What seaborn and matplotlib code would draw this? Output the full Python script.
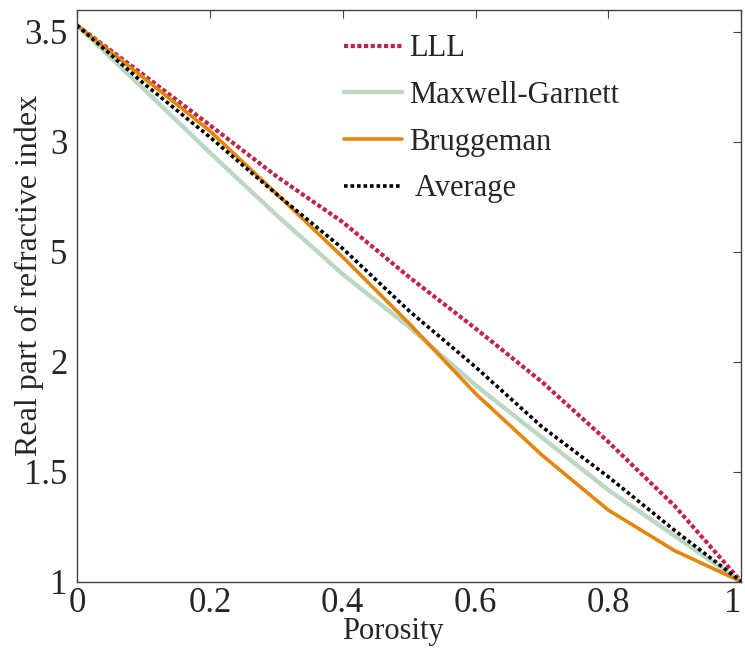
import numpy as np
import pandas as pd
import seaborn as sns
import matplotlib
matplotlib.use("Agg")
import matplotlib.pyplot as plt

porosity = [0.0, 0.1, 0.2, 0.3, 0.4, 0.5, 0.6, 0.7, 0.8, 0.9, 1.0]
lll = [3.53, 3.305, 3.076, 2.844, 2.635, 2.385, 2.151, 1.908, 1.635, 1.343, 1.0]
maxwell_garnett = [3.53, 3.242, 2.951, 2.668, 2.398, 2.158, 1.893, 1.655, 1.416, 1.207, 1.0]
bruggeman = [3.53, 3.292, 3.050, 2.765, 2.476, 2.174, 1.855, 1.575, 1.325, 1.140, 1.0]
average = [3.53, 3.267, 3.022, 2.763, 2.515, 2.231, 1.976, 1.704, 1.476, 1.232, 1.0]

series_names = ["LLL", "Maxwell-Garnett", "Bruggeman", "Average"]
legend_labels = ["LLL", "Maxwell-Garnett", "Bruggeman", " Average"]
x_ticks = [0, 0.2, 0.4, 0.6, 0.8, 1]
x_tick_labels = ["0", "0.2", "0.4", "0.6", "0.8", "1"]
y_ticks = [1, 1.5, 2, 2.5, 3, 3.5]
y_tick_labels = ["1", "1.5", "2", "5", "3", "3.5"]

df = pd.DataFrame({
    "Porosity": porosity * 4,
    "n": lll + maxwell_garnett + bruggeman + average,
    "Model": sum([[name] * len(porosity) for name in series_names], []),
})

sns.set_style("white")
plt.rcParams["font.family"] = ["Liberation Serif", "DejaVu Serif"]

fig = plt.figure(figsize=(7.45, 6.52), dpi=100)
ax = fig.add_axes([0.1034, 0.108, 0.8916, 0.8767])

styles = {
    "LLL": dict(color="#C0234B", lw=3.0, ls=(0, (1, 0.6))),
    "Maxwell-Garnett": dict(color="#BCD8C2", lw=3.2, ls="-"),
    "Bruggeman": dict(color="#E3860C", lw=2.6, ls="-"),
    "Average": dict(color="black", lw=2.6, ls=(0, (1, 0.8))),
}

for name, lab in zip(series_names, legend_labels):
    sub = df[df["Model"] == name]
    st = styles[name]
    sns.lineplot(data=sub, x="Porosity", y="n", ax=ax, color=st["color"],
                 linewidth=st["lw"], linestyle=st["ls"], label=lab,
                 estimator=None, sort=False)

ax.set_xlim(0, 1)
ax.set_ylim(1, 3.6)
ax.set_xticks(x_ticks)
ax.set_xticklabels(x_tick_labels)
ax.set_yticks(y_ticks)
ax.set_yticklabels(y_tick_labels)
ax.tick_params(axis="both", which="both", direction="in", length=6, width=0.8,
               top=True, right=True, labelsize=25, color="#444444")
ax.tick_params(axis="y", pad=7)
ax.tick_params(axis="x", pad=4)
ax.get_xticklabels()[-1].set_horizontalalignment("right")
for sp in ax.spines.values():
    sp.set_visible(True)
    sp.set_color("#444444")
    sp.set_linewidth(1.0)

ax.set_xlabel("Porosity", fontsize=22)
ax.xaxis.set_label_coords(0.475, -0.062)
ax.set_ylabel("Real part of refractive index", fontsize=23)
ax.yaxis.set_label_coords(-0.05, 0.535)

leg = ax.legend(loc="upper left", bbox_to_anchor=(0.37, 0.995), frameon=False,
                fontsize=22, handlelength=1.9, handletextpad=0.22,
                labelspacing=0.58, borderaxespad=0.3)

fig.savefig("out.png", dpi=100)
